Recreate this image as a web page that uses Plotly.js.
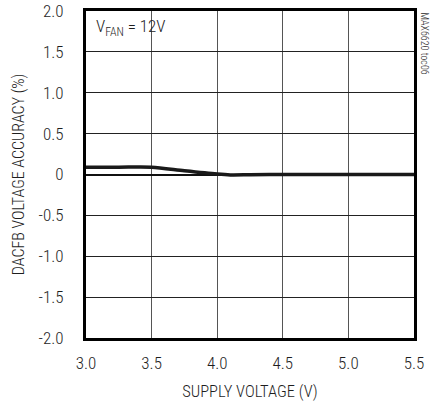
<!DOCTYPE html>
<html>
<head>
<meta charset="utf-8">
<script src="https://cdn.plot.ly/plotly-3.0.1.min.js"></script>
<style>html,body{margin:0;padding:0;background:#fff;}#chart{width:438px;height:403px;}</style>
</head>
<body>
<div id="chart"></div>
<script>
const supplyVoltage = [3.0, 3.25, 3.5, 3.75, 4.0, 4.1, 4.25, 4.5, 5.0, 5.5];
const accuracy = [0.09, 0.09, 0.09, 0.045, 0.005, -0.005, -0.003, 0.0, 0.0, 0.0];
const xTickVals = [3.0, 3.5, 4.0, 4.5, 5.0, 5.5];
const xTickText = ["3.0", "3.5", "4.0", "4.5", "5.0", "5.5"];
const yTickVals = [-2.0, -1.5, -1.0, -0.5, 0, 0.5, 1.0, 1.5, 2.0];
const yTickText = ["-2.0", "-1.5", "-1.0", "-0.5", "0", "0.5", "1.0", "1.5", "2.0"];

const FONT = "Roboto Condensed, DejaVu Sans Condensed, Liberation Sans, sans-serif";
const TXT = "#1e1e1e";

const trace = {
  x: supplyVoltage, y: accuracy, type: "scatter", mode: "lines",
  line: {color: "#1a1a1a", width: 3.5, shape: "spline", smoothing: 0.8},
  hoverinfo: "skip"
};

const layout = {
  width: 438, height: 403,
  margin: {l: 86, r: 24, t: 11, b: 65},
  paper_bgcolor: "#fff", plot_bgcolor: "#fff",
  showlegend: false,
  font: {family: FONT, size: 16, color: TXT, weight: 300},
  xaxis: {
    range: [3.0, 5.5], tickvals: xTickVals, ticktext: xTickText,
    showgrid: true, gridcolor: "#555", gridwidth: 1,
    showline: true, linecolor: "#000", linewidth: 3, mirror: true,
    ticks: "", zeroline: false, ticklabelstandoff: 8,
    tickfont: {family: FONT, size: 17, color: TXT, weight: 300},
    title: {text: "SUPPLY VOLTAGE (V)", font: {family: FONT, size: 16.5, color: TXT, weight: 300}, standoff: 14}
  },
  yaxis: {
    range: [-2.0, 2.0], tickvals: yTickVals, ticktext: yTickText,
    showgrid: true, gridcolor: "#222", gridwidth: 1,
    showline: true, linecolor: "#000", linewidth: 3, mirror: true,
    ticks: "", zeroline: true, zerolinecolor: "#111", zerolinewidth: 2,
    ticklabelstandoff: 16,
    tickfont: {family: FONT, size: 17, color: TXT, weight: 300},
    title: {text: "DACFB VOLTAGE ACCURACY (%)", font: {family: FONT, size: 16, color: TXT, weight: 300}, standoff: 10}
  },
  annotations: [
    {xref: "paper", yref: "paper", x: 0.025, y: 0.99, xanchor: "left", yanchor: "top",
     text: "V<sub>FAN</sub> = 12V", showarrow: false,
     font: {family: FONT, size: 17, color: TXT, weight: 300}},
    {xref: "paper", yref: "paper", x: 1.035, y: 1.0, xanchor: "center", yanchor: "top",
     text: "MAX6620 toc06", textangle: 90, showarrow: false,
     font: {family: FONT, size: 10, color: TXT, weight: 300}}
  ]
};

Plotly.newPlot("chart", [trace], layout, {displayModeBar: false, staticPlot: true});
</script>
</body>
</html>
